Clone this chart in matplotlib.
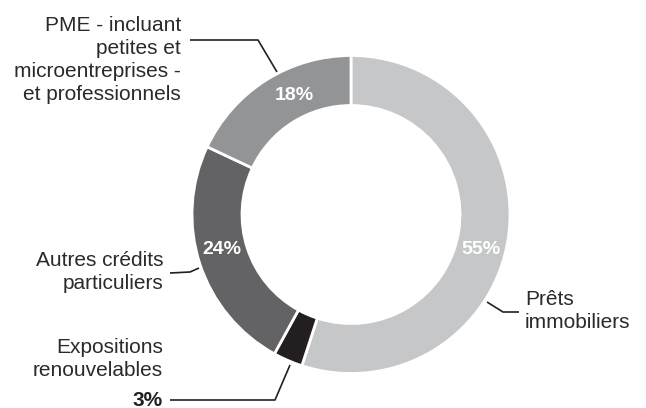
import matplotlib
matplotlib.use("Agg")
import matplotlib.pyplot as plt

# Répartition des encours par type de crédit
categories = ["Prêts immobiliers", "Expositions renouvelables",
              "Autres crédits particuliers",
              "PME - incluant petites et microentreprises - et professionnels"]
shares = [55, 3, 24, 18]
share_labels = ["55%", "3%", "24%", "18%"]
colors = ["#c6c7c9", "#231f20", "#636365", "#939496"]

W, H = 646, 408
fig = plt.figure(figsize=(W / 100, H / 100), dpi=100)
ax = fig.add_axes([0, 0, 1, 1])

cx, cy = 351, H - 214.5
ax.pie(shares, colors=colors, startangle=90, counterclock=False,
       radius=159, center=(cx, cy),
       wedgeprops=dict(width=50, edgecolor="white", linewidth=2))
ax.set_xlim(0, W)
ax.set_ylim(0, H)
ax.set_aspect("equal")
ax.axis("off")

txt = dict(fontsize=15, color="#2a2a2a", family=["Liberation Sans", "DejaVu Sans"])
pct = dict(fontsize=14, color="white", fontweight="bold",
           family=["Liberation Sans Narrow", "Liberation Sans", "DejaVu Sans"],
           ha="center", va="center")


def y(v):
    return H - v


# pourcentages dans l'anneau
ax.text(481, y(250), share_labels[0], **pct)
ax.text(222, y(249), share_labels[2], **pct)
ax.text(294, y(95), share_labels[3], **pct)

# libellés
ax.text(181, y(60), "PME - incluant\npetites et\nmicroentreprises -\net professionnels",
        ha="right", va="center", linespacing=1.27, **txt)
ax.text(163, y(272), "Autres crédits\nparticuliers",
        ha="right", va="center", linespacing=1.27, **txt)
ax.text(163, y(359), "Expositions\nrenouvelables",
        ha="right", va="center", linespacing=1.27, **txt)
ax.text(163, y(400), share_labels[1], ha="right", va="center",
        fontsize=15, fontweight="bold", color="#231f20",
        family=["Liberation Sans Narrow", "Liberation Sans", "DejaVu Sans"])
ax.text(525, y(311), "Prêts\nimmobiliers",
        ha="left", va="center", linespacing=1.27, **txt)

# traits de rappel
leaders = [
    ([190, 258, 277], [40, 40, 72]),
    ([170, 190, 199], [273, 272, 268]),
    ([170, 275, 290], [400, 400, 365]),
    ([487, 503, 519], [302, 312, 312]),
]
for xs, ys in leaders:
    ax.plot(xs, [y(v) for v in ys], color="#231f20", linewidth=1.2,
            solid_capstyle="butt")

fig.savefig("out.png", dpi=100)
